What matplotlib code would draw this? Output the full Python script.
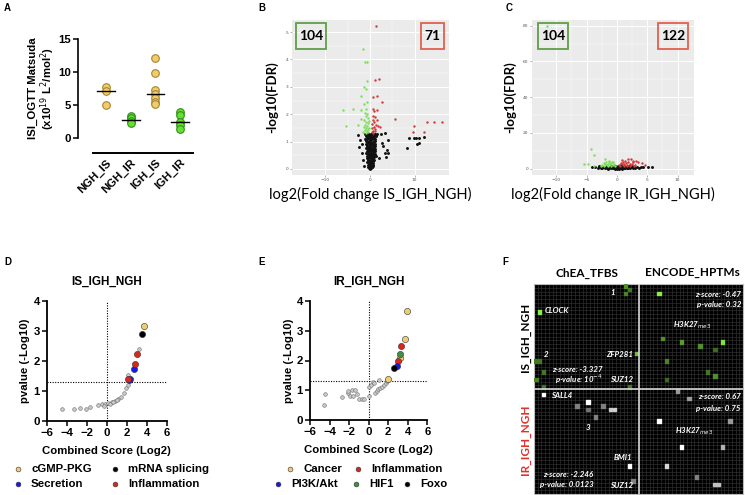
import numpy as np
import matplotlib
matplotlib.use('Agg')
import matplotlib.pyplot as plt
from matplotlib.patches import Rectangle
from matplotlib.colors import LinearSegmentedColormap

W, H = 745, 495

# ---------------- panel A : ISI values ----------------
groups_a = ['NGH_IS', 'NGH_IR', 'IGH_IS', 'IGH_IR']
isi_ngh_is = [7.7, 7.1, 5.0]
isi_ngh_ir = [3.3, 3.0, 2.6, 2.3]
isi_igh_is = [12.1, 9.8, 7.2, 6.6, 6.0, 5.5, 5.1]
isi_igh_ir = [3.9, 3.5, 2.5, 2.0, 1.3]

# ---------------- panel B : volcano IS_IGH_NGH (log2FC, -log10 FDR) ----------------
b_down = [(-1.57, 4.38), (-1.2, 3.89), (-0.6, 3.89), (-0.75, 3.21), (-1.35, 3.0), (-0.9, 2.93),
          (-2.0, 2.66), (-0.75, 2.46), (-1.35, 2.37), (-6.0, 2.15), (-3.75, 2.18), (-5.4, 1.58),
          (-1.95, 2.15), (-0.9, 2.18), (-2.6, 1.6), (-2.1, 1.84), (-1.2, 2.05), (-0.6, 2.0),
          (-1.0, 1.92), (-0.5, 1.85), (-1.3, 1.78), (-0.8, 1.72), (-0.4, 1.68), (-1.1, 1.62),
          (-0.6, 1.57), (-1.4, 1.52), (-0.9, 1.48), (-0.5, 1.45), (-1.2, 1.41), (-0.7, 1.38),
          (-0.4, 1.35), (-1.0, 1.33), (-1.5, 1.36), (-0.3, 1.5), (-0.3, 1.75)]
b_up = [(1.35, 5.22), (1.1, 3.25), (2.0, 3.28), (0.75, 2.64), (1.6, 2.66), (2.7, 2.45), (5.6, 1.84),
        (9.8, 1.58), (9.7, 1.34), (12.2, 1.36), (12.7, 1.7), (14.4, 1.7), (16.1, 1.73),
        (0.6, 2.2), (0.9, 2.1), (1.6, 2.15), (0.6, 1.95), (1.1, 1.9), (0.7, 1.8), (1.5, 1.78),
        (0.9, 1.7), (0.5, 1.65), (1.3, 1.62), (0.8, 1.55), (1.7, 1.58), (0.5, 1.48), (1.0, 1.45),
        (0.6, 1.4), (0.4, 1.36), (0.7, 1.33), (2.2, 1.55), (1.2, 1.38)]
b_ns = [(8.2, 0.75), (8.8, 1.12), (9.9, 1.12), (10.3, 1.12), (10.9, 1.14), (10.9, 0.96), (10.5, 0.91),
        (12.1, 1.16), (4.0, 1.06), (3.9, 0.69), (3.4, 0.57), (4.1, 0.6), (3.5, 0.45), (3.0, 0.84),
        (-2.6, 1.24), (-2.2, 1.06), (-2.4, 0.79), (-1.9, 0.57), (-1.6, 0.33), (-1.35, 0.12),
        (2.4, 1.28), (3.4, 1.3), (2.6, 0.95), (-1.8, 0.9), (2.1, 0.4),
        (-0.25, 0.02), (0.05, 0.01), (0.3, 0.04), (0.5, 0.06), (-0.4, 0.09), (-0.1, 0.07),
        (0.15, 0.11), (0.4, 0.08), (0.65, 0.12), (-0.5, 0.16), (-0.22, 0.14), (0.02, 0.17),
        (0.26, 0.15), (0.51, 0.18), (0.74, 0.16), (-0.62, 0.24), (-0.33, 0.22), (-0.06, 0.25),
        (0.17, 0.23), (0.42, 0.26), (0.67, 0.22), (-0.55, 0.32), (-0.3, 0.3), (-0.09, 0.33),
        (0.19, 0.31), (0.44, 0.34), (0.73, 0.3), (0.94, 0.33), (-0.74, 0.41), (-0.42, 0.39),
        (-0.15, 0.42), (0.1, 0.4), (0.34, 0.43), (0.57, 0.39), (0.82, 0.42), (-0.66, 0.49),
        (-0.38, 0.47), (-0.13, 0.5), (0.15, 0.48), (0.41, 0.51), (0.63, 0.47), (0.9, 0.5),
        (1.26, 0.49), (-0.82, 0.57), (-0.49, 0.55), (-0.22, 0.58), (0.02, 0.56), (0.26, 0.59),
        (0.5, 0.55), (0.75, 0.58), (1.05, 0.56), (-0.73, 0.66), (-0.39, 0.64), (-0.14, 0.67),
        (0.1, 0.65), (0.34, 0.68), (0.62, 0.64), (0.87, 0.67), (1.13, 0.65), (-0.89, 0.75),
        (-0.54, 0.73), (-0.25, 0.76), (0.02, 0.74), (0.23, 0.77), (0.49, 0.73), (0.78, 0.76),
        (1.03, 0.74), (-0.79, 0.84), (-0.47, 0.82), (-0.18, 0.85), (0.09, 0.83), (0.38, 0.86),
        (0.65, 0.82), (0.94, 0.85), (1.22, 0.83), (-0.97, 0.93), (-0.63, 0.91), (-0.3, 0.94),
        (-0.05, 0.92), (0.25, 0.95), (0.5, 0.91), (0.74, 0.94), (1.05, 0.92), (-0.87, 1.02),
        (-0.57, 1.0), (-0.23, 1.03), (0.01, 1.01), (0.3, 1.04), (0.58, 1.0), (0.86, 1.03),
        (1.19, 1.01), (-1.05, 1.11), (-0.7, 1.09), (-0.42, 1.12), (-0.07, 1.1), (0.18, 1.13),
        (0.47, 1.09), (0.78, 1.12), (1.14, 1.1), (-0.95, 1.2), (-0.65, 1.18), (-0.33, 1.21),
        (0.02, 1.19), (0.26, 1.22), (0.57, 1.18), (0.95, 1.21), (1.29, 1.19), (-1.14, 1.28),
        (-0.78, 1.26), (-0.5, 1.29), (-0.15, 1.27), (0.14, 1.28), (0.49, 1.26), (0.82, 1.29),
        (1.18, 1.27), (1.53, 1.28)]

# ---------------- panel C : volcano IR_IGH_NGH ----------------
c_down = [(-11.6, 80), (-4.2, 11), (-3.7, 7.8), (-1.9, 5.3), (-5.4, 2.5), (-4.7, 2.5), (-3.8, 1.7),
          (-2.4, 2.2), (-2.1, 3.0), (-1.8, 3.6), (-1.5, 2.8), (-1.3, 3.9), (-1.1, 2.5), (-0.9, 3.3),
          (-0.7, 2.1), (-0.5, 2.7), (-2.2, 1.6), (-1.6, 1.9), (-1.0, 1.7), (-0.4, 1.6), (-1.3, 4.4),
          (-0.8, 4.0), (-2.6, 1.8), (-1.9, 2.4), (-0.6, 3.5), (-1.4, 1.5)]
c_up = [(0.4, 2.0), (0.6, 3.0), (0.8, 2.4), (1.0, 3.8), (1.2, 2.6), (1.4, 4.5), (1.5, 3.2), (1.7, 2.2),
        (1.9, 3.9), (2.1, 2.9), (2.3, 5.2), (2.5, 2.4), (2.7, 3.5), (2.9, 2.0), (3.1, 4.2), (0.5, 1.6),
        (1.1, 1.7), (1.6, 1.8), (2.2, 1.7), (2.8, 1.6), (3.5, 4.0), (4.05, 3.0), (4.6, 2.0),
        (0.9, 4.8), (1.8, 5.6), (2.6, 4.6)]
c_ns = [(-4.1, 0.9), (-3.6, 1.2), (-3.2, 0.6), (-2.9, 1.1), (-2.6, 0.4), (-2.3, 0.9), (-2.0, 0.3),
        (-1.8, 1.2), (-1.6, 0.6), (-1.4, 0.1), (-1.2, 0.9), (-1.0, 0.4), (-0.9, 1.3), (-0.7, 0.2),
        (-0.5, 0.8), (-0.4, 0.0), (-0.2, 1.1), (-0.1, 0.5), (0.0, 0.1), (0.1, 0.9), (0.2, 0.4),
        (0.3, 1.3), (0.4, 0.0), (0.5, 0.7), (0.6, 0.3), (0.7, 1.1), (0.8, 0.5), (0.9, 0.1),
        (1.0, 0.9), (1.1, 0.4), (1.2, 1.2), (1.3, 0.2), (1.4, 0.7), (1.6, 0.3), (1.7, 1.0),
        (1.9, 0.5), (2.0, 1.3), (2.2, 0.2), (2.4, 0.8), (2.6, 0.4), (2.8, 1.1), (3.0, 0.6),
        (3.3, 0.9), (3.6, 0.5), (3.9, 1.0), (4.3, 0.7), (5.1, 1.1), (5.7, 0.8), (-1.3, 0.5),
        (-0.6, 0.6), (0.35, 0.6), (1.5, 0.9), (-2.4, 0.2), (2.1, 0.9), (-0.8, 1.6), (0.15, 1.7),
        (-1.7, 1.5), (1.1, 1.6), (2.5, 1.5), (-3.0, 1.5), (0.65, 1.9), (-0.3, 1.8)]

# ---------------- panel D : KEGG IS_IGH_NGH (combined score log2, -log10 p) ----------------
d_other = [(-4.43, 0.41), (-3.27, 0.39), (-2.67, 0.43), (-2.07, 0.39), (-1.67, 0.48), (-0.9, 0.54),
           (-0.5, 0.56), (-0.13, 0.58), (0.17, 0.61), (0.5, 0.64), (0.83, 0.68), (1.17, 0.73),
           (1.43, 0.81), (1.73, 0.92), (1.93, 1.09), (2.13, 1.2), (2.17, 1.53), (3.27, 2.39),
           (-0.3, 0.5), (0.3, 0.58), (0.65, 0.62), (1.0, 0.7)]
d_labels = ['cGMP-PKG', 'mRNA splicing', 'Secretion', 'Inflammation']
d_hits = {'cGMP-PKG': [(3.73, 3.16)],
          'mRNA splicing': [(3.5, 2.9)],
          'Secretion': [(2.7, 1.73), (2.33, 1.4), (2.2, 1.37)],
          'Inflammation': [(3.03, 2.22), (2.87, 1.9), (2.13, 1.41)]}

# ---------------- panel E : KEGG IR_IGH_NGH ----------------
e_other = [(-4.6, 0.5), (-4.47, 0.86), (-2.73, 0.78), (-2.15, 0.92), (-2.11, 0.99), (-1.88, 0.82),
           (-1.64, 0.82), (-1.67, 1.01), (-1.36, 1.01), (-1.19, 0.87), (-0.99, 0.69), (-0.72, 0.71),
           (-0.48, 0.71), (0.0, 0.82), (0.0, 1.12), (0.24, 1.18), (0.48, 1.29), (0.58, 1.23),
           (0.65, 0.92), (0.82, 0.97), (0.99, 1.03), (1.09, 1.34), (1.19, 1.09), (1.4, 1.12),
           (1.6, 1.18), (1.74, 1.25), (1.88, 1.31)]
e_labels = ['Cancer', 'Inflammation', 'PI3K/Akt', 'HIF1', 'Foxo']
e_hits = {'Cancer': [(3.92, 3.66), (3.75, 2.71), (3.2, 2.07), (1.94, 1.37)],
          'Inflammation': [(3.31, 2.49), (3.0, 1.98)],
          'PI3K/Akt': [(2.86, 1.82)],
          'HIF1': [(3.17, 2.21)],
          'Foxo': [(2.63, 1.76)]}

# ---------------- panel F : enrichment grids (cell col, cell row, intensity) ----------------
f_is_chea = [(24, 0, 0.6), (25, 1, 0.5), (24, 2, 0.55), (1, 7, 1.0), (27, 18, 0.8), (0, 20, 0.5),
             (1, 20, 0.5), (2, 23, 0.5), (0, 25, 0.55), (2, 27, 0.5), (25, 27, 0.5)]
f_is_encode = [(5, 2, 1.0), (6, 14, 0.6), (11, 15, 0.65), (16, 16, 0.6), (22, 15, 0.95), (20, 17, 0.45),
               (7, 20, 0.55), (18, 23, 0.5), (20, 24, 0.6), (7, 25, 0.45)]
f_ir_chea = [(2, 1, 1.0), (14, 3, 1.0), (11, 4, 0.5), (14, 5, 0.45), (18, 4, 0.5), (16, 7, 0.5),
             (20, 5, 0.8), (21, 5, 0.8), (25, 20, 1.0), (26, 24, 0.5)]
f_ir_encode = [(10, 0, 0.6), (13, 2, 0.6), (5, 8, 1.0), (24, 8, 0.6), (11, 15, 1.0), (22, 15, 0.7),
               (7, 20, 0.85), (15, 23, 0.5), (20, 25, 0.75), (21, 25, 0.75)]

YEL, RED, BLU, GRN, BLK = '#F0CC6E', '#D42A1E', '#1B1BE0', '#3F8F45', '#000000'
ARIAL = 'Liberation Sans'
CAL = 'Lato'
PF = 8.2  # prism font size


def rect(l, t, r, b):
    return [l / W, 1 - b / H, (r - l) / W, (b - t) / H]


def ftext(x, y, s, **kw):
    fig.text(x / W, 1 - y / H, s, **kw)


fig = plt.figure(figsize=(W / 100, H / 100), dpi=100)
fig.patch.set_facecolor('white')

for lab, x, y in [('A', 4, 8), ('B', 258, 8), ('C', 506, 8), ('D', 4, 262), ('E', 258, 262), ('F', 502, 262)]:
    ftext(x, y, lab, fontsize=7, fontweight='bold', family=ARIAL, va='center')

# ================= A =================
axA = fig.add_axes(rect(78, 39, 193, 138))
# spine moves reset the ticks, so do them first
axA.spines['top'].set_visible(False)
axA.spines['right'].set_visible(False)
axA.spines['left'].set_linewidth(1.2)
axA.spines['bottom'].set_linewidth(1.4)
axA.spines['bottom'].set_position(('outward', 11))
axA.spines['bottom'].set_bounds(-0.53, 3.52)

vals_a = [isi_ngh_is, isi_ngh_ir, isi_igh_is, isi_igh_ir]
cols_a = [(YEL, '#A8852E'), ('#66E02E', '#2F8F1A'), (YEL, '#A8852E'), ('#66E02E', '#2F8F1A')]
for i, (v, (fc, ec)) in enumerate(zip(vals_a, cols_a)):
    axA.scatter([i] * len(v), v, s=30, facecolor=fc, edgecolor=ec, linewidth=0.8, zorder=3)
    m = np.median(v)
    axA.plot([i - 0.36, i + 0.36], [m, m], color='k', lw=1.0, zorder=4)
axA.set_xlim(-1.13, 3.52)
axA.set_ylim(0, 15)
axA.set_yticks([0, 5, 10, 15])
axA.set_xticks(range(4))
axA.set_xticklabels(groups_a, rotation=45, ha='right', va='top', rotation_mode='anchor',
                    fontsize=PF, fontweight='bold', family=ARIAL)
axA.tick_params(axis='x', length=0, pad=3)
axA.tick_params(axis='y', length=3.5, width=1.1, labelsize=PF, pad=1.5)
for t in axA.get_yticklabels():
    t.set_fontweight('bold'); t.set_family(ARIAL)
axA.set_ylabel('ISI_OGTT Matsuda\n(x10$^{19}$ L$^{2}$/mol$^{2}$)', fontsize=PF, fontweight='bold',
               family=ARIAL, labelpad=1, linespacing=1.05)
axA.patch.set_alpha(0)


# ================= B & C (ggplot-like volcano) =================
def volcano(box, down, up, ns, xlim, ylim, xt, yt, xlab, n_down, n_up, box_l, box_r):
    ax = fig.add_axes(rect(*box))
    ax.set_facecolor('#EBEBEB')
    for sp in ax.spines.values():
        sp.set_visible(False)
    ns, down, up = np.array(ns), np.array(down), np.array(up)
    ax.scatter(ns[:, 0], ns[:, 1], s=4.5, color='#111111', linewidth=0, zorder=3)
    ax.scatter(down[:, 0], down[:, 1], s=3, color='#7CE05A', linewidth=0, zorder=3)
    ax.scatter(up[:, 0], up[:, 1], s=3, color='#D23A3A', linewidth=0, zorder=3)
    ax.set_xlim(*xlim)
    ax.set_ylim(*ylim)
    ax.set_xticks(xt)
    ax.set_yticks(yt)
    ax.set_xticks([(a + b) / 2 for a, b in zip(xt[:-1], xt[1:])], minor=True)
    ax.set_yticks([(a + b) / 2 for a, b in zip(yt[:-1], yt[1:])], minor=True)
    ax.grid(True, which='major', color='white', lw=0.7)
    ax.grid(True, which='minor', color='white', lw=0.35)
    ax.set_axisbelow(True)
    ax.tick_params(which='major', length=1.5, width=0.4, color='#777777', labelsize=3.2,
                   labelcolor='#555555', pad=1)
    ax.tick_params(which='minor', length=0)
    ax.set_xlabel(xlab, fontsize=10.5, family=CAL, labelpad=3)
    ax.set_ylabel('-log10(FDR)', fontsize=9.5, fontweight='bold', family=CAL, labelpad=5)
    for (x0, x1), txt, ec in [(box_l, n_down, '#5E9E45'), (box_r, n_up, '#E0604F')]:
        ax.add_patch(Rectangle((x0, 0.815), x1 - x0, 0.165, transform=ax.transAxes, fill=False,
                               edgecolor=ec, lw=1.3, zorder=5))
        ax.text((x0 + x1) / 2, 0.897, txt, transform=ax.transAxes, ha='center', va='center',
                fontsize=10, fontweight='bold', family=CAL, zorder=6)
    return ax


volcano((292, 20, 449, 175), b_down, b_up, b_ns, (-17.5, 17.7), (-0.22, 5.44), [-10, 0, 10],
        [0, 1, 2, 3, 4, 5], 'log2(Fold change IS_IGH_NGH)', '104', '71', (0.025, 0.217), (0.82, 0.968))
volcano((532, 20, 694, 175), c_down, c_up, c_ns, (-14.0, 12.7), (-3.5, 83.2), [-10, -5, 0, 5, 10],
        [0, 20, 40, 60, 80], 'log2(Fold change IR_IGH_NGH)', '104', '122', (0.04, 0.225), (0.78, 0.965))


# ================= D & E (Prism scatter) =================
def enrich(box, title, other, labels, hits, colors):
    ax = fig.add_axes(rect(*box))
    o = np.array(other)
    ax.axvline(0, color='k', ls=(0, (1, 1.3)), lw=0.8, zorder=1)
    ax.axhline(1.3, color='k', ls=(0, (1, 1.3)), lw=0.8, zorder=1)
    ax.scatter(o[:, 0], o[:, 1], s=7, facecolor='#C9C9C9', edgecolor='#6E6E6E', linewidth=0.4, zorder=2)
    for lab in labels:
        p = np.array(hits[lab])
        ax.scatter(p[:, 0], p[:, 1], s=20, facecolor=colors[lab], edgecolor='#333333', linewidth=0.4, zorder=3)
    ax.set_xlim(-6, 6)
    ax.set_ylim(0, 4)
    ax.set_xticks(range(-6, 7, 2))
    ax.set_yticks(range(0, 5))
    ax.tick_params(length=3.5, width=1.1, labelsize=PF, pad=1.5)
    for t in ax.get_xticklabels() + ax.get_yticklabels():
        t.set_fontweight('bold'); t.set_family(ARIAL)
    for s in ('top', 'right'):
        ax.spines[s].set_visible(False)
    for s in ('left', 'bottom'):
        ax.spines[s].set_linewidth(1.3)
    ax.set_xlabel('Combined Score (Log2)', fontsize=PF, fontweight='bold', family=ARIAL, labelpad=6)
    ax.set_ylabel('pvalue (-Log10)', fontsize=PF, fontweight='bold', family=ARIAL, labelpad=2)
    ax.set_title(title, fontsize=PF + 0.3, fontweight='bold', family=ARIAL, pad=12)
    return ax


d_colors = {'cGMP-PKG': YEL, 'mRNA splicing': BLK, 'Secretion': BLU, 'Inflammation': RED}
e_colors = {'Cancer': YEL, 'Inflammation': RED, 'PI3K/Akt': BLU, 'HIF1': GRN, 'Foxo': BLK}
enrich((46.7, 301, 166.7, 421), 'IS_IGH_NGH', d_other, d_labels, d_hits, d_colors)
enrich((310, 301, 427.3, 420), 'IR_IGH_NGH', e_other, e_labels, e_hits, e_colors)

# manual legends laid out in figure pixels
legax = fig.add_axes([0, 0, 1, 1])
legax.set_xlim(0, W)
legax.set_ylim(H, 0)
legax.axis('off')
d_leg_pos = [(18, 469), (115, 469), (18, 484), (115, 484)]
e_leg_pos = [(290, 469), (358, 469), (278, 484), (356, 484), (407, 484)]
for labels, colors, pos in [(d_labels, d_colors, d_leg_pos), (e_labels, e_colors, e_leg_pos)]:
    for lab, (x, y) in zip(labels, pos):
        legax.scatter([x], [y], s=12, facecolor=colors[lab], edgecolor='#333333', linewidth=0.4)
        legax.text(x + 13, y, lab, fontsize=PF, fontweight='bold', family=ARIAL, va='center')

# ================= F (grid heat maps) =================
axF = fig.add_axes(rect(534, 284, 743, 494))
axF.set_facecolor('black')
axF.set_xlim(0, 56)
axF.set_ylim(56, 0)
axF.set_xticks([])
axF.set_yticks([])
for i in range(1, 56):
    axF.axvline(i, color='#333333', lw=0.45, zorder=1)
    axF.axhline(i, color='#333333', lw=0.45, zorder=1)
axF.axvline(28, color='#D8D8D8', lw=1.2, zorder=4)
axF.axhline(28, color='#D8D8D8', lw=1.2, zorder=4)
for sp in axF.spines.values():
    sp.set_color('#BBBBBB'); sp.set_linewidth(0.8)

green_map = LinearSegmentedColormap.from_list('g', ['#000000', '#86F044'])
grey_map = LinearSegmentedColormap.from_list('k', ['#000000', '#FFFFFF'])
for cells, (ox, oy), cmap in [(f_is_chea, (0, 0), green_map), (f_is_encode, (28, 0), green_map),
                              (f_ir_chea, (0, 28), grey_map), (f_ir_encode, (28, 28), grey_map)]:
    for cx, cy, v in cells:
        axF.add_patch(Rectangle((ox + cx + 0.06, oy + cy + 0.06), 0.88, 0.88, color=cmap(v), zorder=3))

fkw = dict(color='white', fontsize=5.7, fontweight='bold', fontstyle='italic', family=CAL, va='center', zorder=5)
axF.text(21.1, 2.3, '1', ha='center', **fkw)
axF.text(2.95, 7.1, 'CLOCK', ha='left', **fkw)
axF.text(3.2, 18.8, '2', ha='center', **fkw)
axF.text(26.6, 18.8, 'ZFP281', ha='right', **fkw)
axF.text(18.5, 22.8, 'z-score: -3.327', ha='right', **fkw)
axF.text(18.5, 25.5, 'p-value: 10$^{-4}$', ha='right', **fkw)
axF.text(26.6, 25.5, 'SUZ12', ha='right', **fkw)
axF.text(55.6, 2.7, 'z-score: -0.47', ha='right', **fkw)
axF.text(55.6, 5.6, 'p-value: 0.32', ha='right', **fkw)
axF.text(42.4, 10.9, 'H3K27$_{me3}$', ha='center', **fkw)
axF.text(4.5, 29.8, 'SALL4', ha='left', **fkw)
axF.text(14.6, 38.2, '3', ha='center', **fkw)
axF.text(23.9, 46.3, 'BMI1', ha='center', **fkw)
axF.text(15.9, 50.8, 'z-score: -2.246', ha='right', **fkw)
axF.text(15.9, 53.6, 'p-value: 0.0123', ha='right', **fkw)
axF.text(23.4, 53.6, 'SUZ12', ha='center', **fkw)
axF.text(55.4, 29.9, 'z-score: 0.67', ha='right', **fkw)
axF.text(55.4, 33.2, 'p-value: 0.75', ha='right', **fkw)
axF.text(42.9, 39.2, 'H3K27$_{me3}$', ha='center', **fkw)

ftext(587, 273, 'ChEA_TFBS', fontsize=8.5, fontweight='bold', family=CAL, ha='center', va='center')
ftext(692, 273, 'ENCODE_HPTMs', fontsize=8.5, fontweight='bold', family=CAL, ha='center', va='center')
ftext(525, 337, 'IS_IGH_NGH', fontsize=8.5, fontweight='bold', family=CAL, ha='center', va='center',
      rotation=90)
ftext(525, 440, 'IR_IGH_NGH', fontsize=8.5, fontweight='bold', family=CAL, ha='center', va='center',
      rotation=90, color='#E0302A')

fig.savefig('out.png', dpi=100)
